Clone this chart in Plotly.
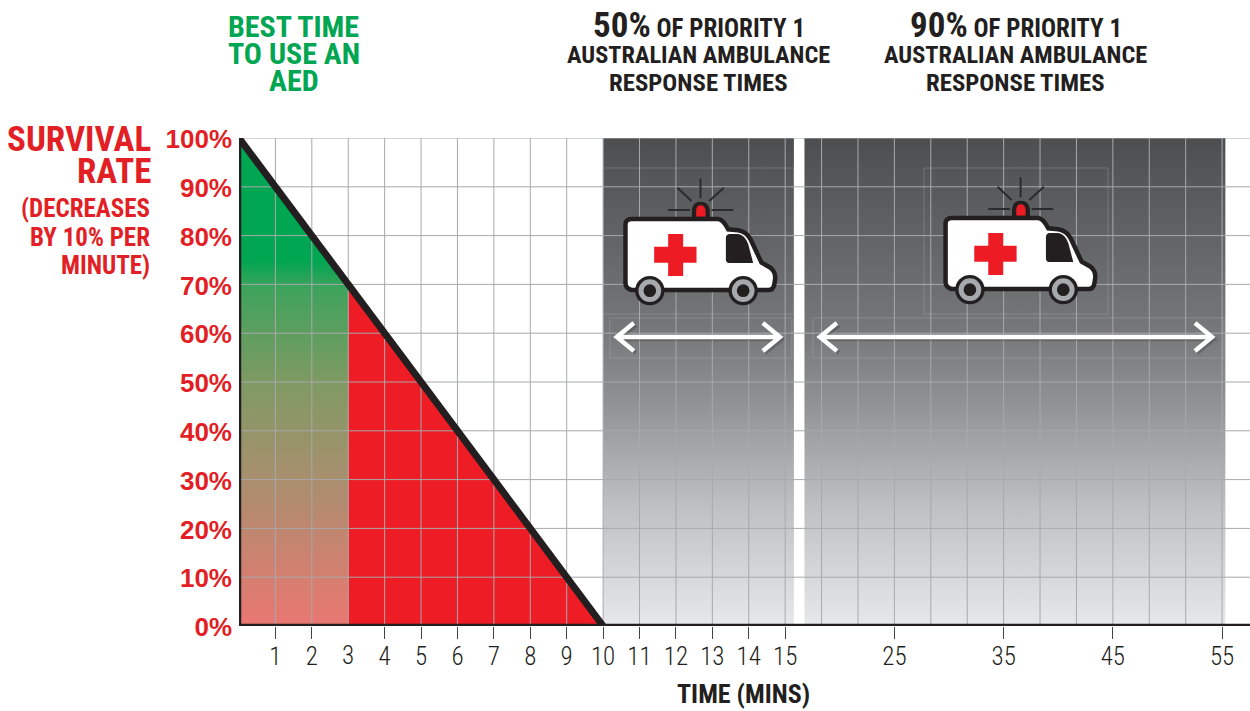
import plotly.graph_objects as go

# ---------- data ----------
survival_minutes = [0, 1, 2, 3, 4, 5, 6, 7, 8, 9, 10]
survival_rate = [100, 90, 80, 70, 60, 50, 40, 30, 20, 10, 0]
y_ticks = [0, 10, 20, 30, 40, 50, 60, 70, 80, 90, 100]
y_tick_lab = ["0%", "10%", "20%", "30%", "40%", "50%", "60%", "70%", "80%", "90%", "100%"]
# the x axis is broken: 1 unit per minute to 15, then 3 units per 10 minutes
x_tick_pos = [1, 2, 4, 5, 6, 7, 8, 9, 10, 11, 12, 13, 14, 15, 18, 21, 24, 27]
x_tick_lab = ["1", "2", "4", "5", "6", "7", "8", "9", "10", "11", "12", "13", "14", "15", "25", "35", "45", "55"]
panel_a = [10, 15.24]
panel_b = [15.53, 27.09]
aed_end = 3
heads = [
    (699, "50%", "OF PRIORITY 1", "AUSTRALIAN AMBULANCE", "RESPONSE TIMES"),
    (1016, "90%", "OF PRIORITY 1", "AUSTRALIAN AMBULANCE", "RESPONSE TIMES"),
]

# ---------- layout constants ----------
L, T, B = 239.3, 138.0, 626.0
UX = 36.4
UY = (B - T) / 100
XMAX = (1250 - L) / UX
DARK = "#231f20"
RED = "#e31f26"
GREEN = "#00a651"
GRID = "#a7a9ac"
BOLD = "Liberation Sans"
NARROW = "Roboto Condensed"


def X(p):
    return (p - L) / UX


def Y(p):
    return (B - p) / UY


def path(tokens, ox=590, oy=120, dx=0, dy=0, scale=3.0):
    """tokens: commands and (x, y) pairs in zoomed icon space"""
    out = []
    for t in tokens:
        if isinstance(t, str):
            out.append(t)
        else:
            out.append(f"{X(ox + t[0] / scale + dx):.4f},{Y(oy + t[1] / scale + dy):.4f}")
    return " ".join(out)


fig = go.Figure()


def fill(xs, ys, color=None, stops=None):
    kw = dict(x=xs, y=ys, mode="lines", fill="toself", line=dict(width=0), hoverinfo="skip", showlegend=False)
    if stops:
        kw["fillgradient"] = dict(type="vertical", colorscale=stops, start=100, stop=0)
        kw["fillcolor"] = "rgba(0,0,0,0)"
    else:
        kw["fillcolor"] = color
    fig.add_trace(go.Scatter(**kw))


PANEL = [[0, "#4d4e50"], [0.4, "#77787a"], [0.55, "#929395"], [0.75, "#bebfc1"], [1, "#e7e8e9"]]
for p in (panel_a, panel_b):
    fill([p[0], p[1], p[1], p[0]], [100, 100, 0, 0], stops=PANEL)

fill([0, aed_end, aed_end, 0], [100, survival_rate[aed_end], 0, 0],
     stops=[[0, GREEN], [0.25, GREEN], [0.31, "#3fa35c"], [0.5, "#7f9a63"], [0.7, "#a98f6e"], [1, "#ea7771"]])
fill([aed_end, survival_minutes[-1], aed_end], [survival_rate[aed_end], 0, 0], color="#ee1c25")

# grid lines go above the fills
gx, gy = [], []
for i in range(1, 28):
    gx += [i, i, None]
    gy += [0, 100, None]
for v in y_ticks[1:]:
    gx += [0, XMAX, None]
    gy += [v, v, None]
fig.add_trace(go.Scatter(x=gx, y=gy, mode="lines", line=dict(color=GRID, width=1),
                         hoverinfo="skip", showlegend=False, cliponaxis=False))

# survival line and axis lines
fig.add_trace(go.Scatter(x=survival_minutes, y=survival_rate, mode="lines",
                         line=dict(color=DARK, width=7), showlegend=False, cliponaxis=True))
fig.add_trace(go.Scatter(x=[0, 0, XMAX], y=[100, 0, 0], mode="lines",
                         line=dict(color=DARK, width=4.5), hoverinfo="skip", showlegend=False, cliponaxis=False))

shapes = []
FAINT = "rgba(205,205,208,0.25)"


def rect(x0, y0, x1, y1):
    shapes.append(dict(type="rect", x0=X(x0), x1=X(x1), y0=Y(y0), y1=Y(y1),
                       line=dict(color=FAINT, width=1), fillcolor="rgba(0,0,0,0)"))


rect(602.7, 168, 794, 314)
rect(610, 318, 792, 358)
rect(924, 168, 1108, 314)
rect(813, 318, 1224, 358)


def arrow(x0, x1, y):
    for off, c in ((2, "rgba(0,0,0,0.18)"), (0, "white")):
        d = (f"M{X(x0 + 17 + off):.4f},{Y(y - 14 + off):.4f} L{X(x0 + off):.4f},{Y(y + off):.4f} "
             f"L{X(x0 + 17 + off):.4f},{Y(y + 14 + off):.4f} "
             f"M{X(x0 + off):.4f},{Y(y + off):.4f} L{X(x1 + off):.4f},{Y(y + off):.4f} "
             f"M{X(x1 - 17 + off):.4f},{Y(y - 14 + off):.4f} L{X(x1 + off):.4f},{Y(y + off):.4f} "
             f"L{X(x1 - 17 + off):.4f},{Y(y + 14 + off):.4f}")
        shapes.append(dict(type="path", path=d, line=dict(color=c, width=4.5)))


arrow(617, 780, 337)
arrow(820, 1212, 337)


def ambulance(dx, dy):
    P = lambda t: path(t, dx=dx, dy=dy)
    # rays
    for a, b in (((332, 175), (332, 235)), ((263, 203), (305, 243)), ((402, 203), (358, 243)),
                 ((235, 270), (300, 270)), ((365, 270), (430, 270))):
        shapes.append(dict(type="path", path=P(["M", a, "L", b]), line=dict(color="#2b2b2d", width=2)))
    # dome
    shapes.append(dict(type="path", path=P(["M", (306, 296), "L", (306, 272), "Q", (308, 245), (332, 245),
                                            "Q", (358, 245), (360, 272), "L", (360, 296), "Z"]),
                       fillcolor=DARK, line=dict(width=0)))
    shapes.append(dict(type="path", path=P(["M", (319, 290), "L", (319, 270), "Q", (321, 256), (332, 256),
                                            "Q", (345, 256), (347, 270), "L", (347, 290), "Z"]),
                       fillcolor="#ed1c24", line=dict(width=0)))
    # body
    body = ["M", (125, 297), "L", (385, 297), "Q", (400, 298), (415, 328), "L", (445, 331),
            "Q", (470, 335), (482, 358), "L", (515, 428), "L", (542, 443), "Q", (557, 455), (556, 475),
            "L", (553, 495), "Q", (550, 510), (535, 510), "L", (125, 510), "Q", (107, 505), (107, 490),
            "L", (107, 312), "Q", (108, 298), (125, 297), "Z"]
    shapes.append(dict(type="path", path=P(body), fillcolor="white", line=dict(color=DARK, width=4.5)))
    # window
    shapes.append(dict(type="path", path=P(["M", (420, 342), "L", (445, 342), "Q", (465, 345), (475, 372),
                                            "L", (490, 429), "L", (418, 429), "Q", (408, 429), (408, 418),
                                            "L", (408, 354), "Q", (408, 343), (420, 342), "Z"]),
                       fillcolor=DARK, line=dict(width=0)))
    # cross
    shapes.append(dict(type="path", path=P(["M", (235, 342), "L", (280, 342), "L", (280, 380), "L", (320, 380),
                                            "L", (320, 428), "L", (280, 428), "L", (280, 468), "L", (235, 468),
                                            "L", (235, 428), "L", (193, 428), "L", (193, 380), "L", (235, 380), "Z"]),
                       fillcolor="#ed1c24", line=dict(width=0)))
    # wheels
    for cx in (180, 460):
        for r, c in ((44, DARK), (34, "#a7a9ac"), (19, DARK)):
            px, py = 590 + cx / 3 + dx, 120 + 512 / 3 + dy
            shapes.append(dict(type="circle", x0=X(px - r / 3), x1=X(px + r / 3), y0=Y(py + r / 3), y1=Y(py - r / 3),
                               fillcolor=c, line=dict(width=0)))


ambulance(0, 0)
ambulance(320, -1)


def down_arrow(x, color):
    shapes.append(dict(type="path",
                       path=f"M{X(x - 2):.4f},{Y(99):.4f} L{X(x + 2):.4f},{Y(99):.4f} L{X(x + 2):.4f},{Y(113):.4f} "
                            f"L{X(x + 14):.4f},{Y(113):.4f} L{X(x):.4f},{Y(128):.4f} L{X(x - 14):.4f},{Y(113):.4f} "
                            f"L{X(x - 2):.4f},{Y(113):.4f} Z",
                       fillcolor=color, line=dict(width=0)))


down_arrow(294, GREEN)
down_arrow(699, "#3f4349")
down_arrow(1016, "#3f4349")

ann = []


def text(x, y, s, size, color, family=NARROW, anchor="center", weight=None):
    f = dict(size=size, color=color, family=family)
    if weight:
        f["weight"] = weight
    ann.append(dict(x=(x - L) / (1250 - L), y=(B - y) / (B - T), xref="paper", yref="paper", text=s, showarrow=False,
                    xanchor=anchor, yanchor="middle", align=anchor, font=f))


for line, y in (("BEST TIME", 27), ("TO USE AN", 54), ("AED", 81)):
    text(294, y, f"<b>{line}</b>", 30, GREEN)
for cx, pct, rest, l2, l3 in heads:
    text(cx, 26, f"<b><span style='font-size:35px'>{pct}</span> {rest}</b>", 25, DARK)
    text(cx, 55, f"<b>{l2}</b>", 24.3, DARK)
    text(cx, 82, f"<b>{l3}</b>", 24.8, DARK)
text(153.5, 140, "<b>SURVIVAL</b>", 35, RED, NARROW, "right")
text(153.5, 171, "<b>RATE</b>", 35, RED, NARROW, "right")
text(152, 208, "<b>(DECREASES</b>", 25, RED, NARROW, "right")
text(152, 237, "<b>BY 10% PER</b>", 25, RED, NARROW, "right")
text(152, 265, "<b>MINUTE)</b>", 25, RED, NARROW, "right")
text(348.5, 655, "3", 25, DARK, NARROW, weight=300)
text(743.5, 694, "<b>TIME (MINS)</b>", 26, DARK)

fig.update_layout(
    width=1250, height=711, autosize=False,
    margin=dict(l=L, r=0, t=T, b=711 - B, pad=0),
    paper_bgcolor="white", plot_bgcolor="white", showlegend=False,
    shapes=shapes, annotations=ann,
    xaxis=dict(range=[0, XMAX], showgrid=False, zeroline=False, showline=False, automargin=False,
               tickmode="array", tickvals=x_tick_pos, ticktext=x_tick_lab,
               ticks="outside", ticklen=12, tickwidth=1, tickcolor="#444444",
               ticklabelstandoff=-4,
               tickfont=dict(family=NARROW, size=25, color=DARK, weight=300)),
    yaxis=dict(range=[0, 100], showgrid=False, zeroline=False, showline=False, automargin=False,
               tickmode="array", tickvals=y_ticks, ticktext=y_tick_lab,
               ticks="", ticklabelstandoff=6, ticklabelshift=1,
               tickfont=dict(family=BOLD, size=26, color=RED, weight="bold")),
)
fig.write_html("out.html", config={"displayModeBar": False},
               post_script="document.body.style.margin='0';")
